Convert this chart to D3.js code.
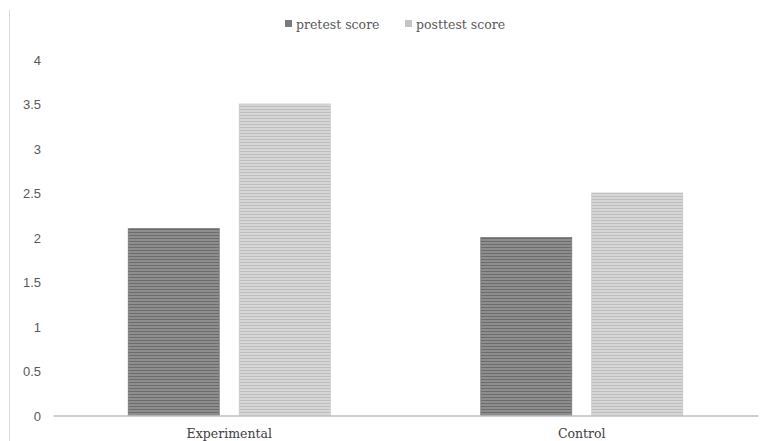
<!DOCTYPE html>
<html>
<head>
<meta charset="utf-8">
<script src="https://cdn.jsdelivr.net/npm/d3@7"></script>
<style>
  html, body { margin: 0; padding: 0; background: #fff; }
  svg { display: block; }
</style>
</head>
<body>
<script>
const categories = ["Experimental", "Control"];
const seriesNames = ["pretest score", "posttest score"];
const pretestValues = [2.1, 2.0];
const posttestValues = [3.5, 2.5];
const yTicks = [0, 0.5, 1, 1.5, 2, 2.5, 3, 3.5, 4];

const W = 766, H = 441;
const svg = d3.select("body").append("svg").attr("width", W).attr("height", H);

const defs = svg.append("defs");
function stripe(id, base, line) {
  const p = defs.append("pattern").attr("id", id).attr("patternUnits", "userSpaceOnUse")
    .attr("width", 6).attr("height", 3);
  p.append("rect").attr("width", 6).attr("height", 3).attr("fill", base);
  p.append("rect").attr("y", 1).attr("width", 6).attr("height", 1).attr("fill", line);
}
stripe("pPre", "#8e8e8e", "#6c6c6c");
stripe("pPost", "#d6d6d6", "#bdbdbd");
const fills = { "pretest score": "url(#pPre)", "posttest score": "url(#pPost)" };
const swatch = { "pretest score": "#7a7a7a", "posttest score": "#c4c4c4" };
const edges = { "pretest score": "#7a7a7a", "posttest score": "#c8c8c8" };

// left frame line
svg.append("line").attr("x1", 9.5).attr("x2", 9.5).attr("y1", 10).attr("y2", H)
  .attr("stroke", "#d9d9d9").attr("stroke-width", 1);

const x0 = d3.scaleBand().domain(categories).range([53, 758]).padding(0);
const x1 = d3.scaleBand().domain(seriesNames).range([0, x0.bandwidth()])
  .paddingInner(0.18).paddingOuter(0.678);
const y = d3.scaleLinear().domain([0, 4]).range([415.5, 59.5]);

const data = categories.map((c, i) => ({
  cat: c,
  vals: [
    { s: "pretest score", v: pretestValues[i] },
    { s: "posttest score", v: posttestValues[i] }
  ]
}));

// y axis labels
const yAxis = d3.axisLeft(y).tickValues(yTicks).tickSize(0).tickPadding(0)
  .tickFormat(d => String(d));
const ga = svg.append("g").attr("transform", "translate(41,0)").call(yAxis);
ga.select(".domain").remove();
ga.selectAll("text").attr("fill", "#595959").attr("font-family", "Liberation Sans, Arial, sans-serif")
  .attr("font-size", 13).attr("dy", "0.35em");

// bars
const g = svg.append("g");
data.forEach(d => {
  g.selectAll(null).data(d.vals).enter().append("rect")
    .attr("x", v => x0(d.cat) + x1(v.s))
    .attr("y", v => y(v.v))
    .attr("width", x1.bandwidth())
    .attr("height", v => y(0) - y(v.v))
    .attr("fill", v => fills[v.s])
    .attr("stroke", v => edges[v.s])
    .attr("stroke-width", 0.8);
});

// x axis line
const xAxis = d3.axisBottom(x0).tickSize(0).tickPadding(0);
const gx = svg.append("g").attr("transform", `translate(0,${y(0)})`).call(xAxis);
gx.select(".domain").attr("stroke", "#bfbfbf").attr("stroke-width", 1.5);
gx.selectAll("text").attr("fill", "#404040")
  .attr("font-family", "DejaVu Serif, serif").attr("font-size", 12.5)
  .attr("dy", "1.8em");

// legend
const legend = svg.append("g");
const legendItems = [
  { s: "pretest score", x: 285 },
  { s: "posttest score", x: 405 }
];
legendItems.forEach(it => {
  legend.append("rect").attr("x", it.x).attr("y", 20).attr("width", 7).attr("height", 7)
    .attr("fill", swatch[it.s]);
  legend.append("text").attr("x", it.x + 11).attr("y", 28.5).text(it.s)
    .attr("fill", "#595959").attr("font-family", "DejaVu Serif, serif").attr("font-size", 12.5);
});
</script>
</body>
</html>
